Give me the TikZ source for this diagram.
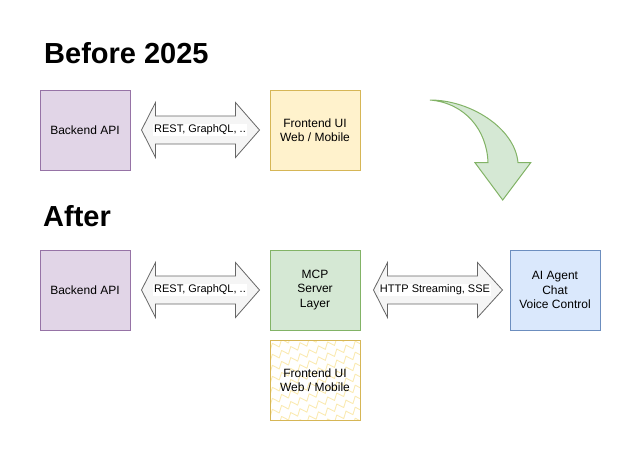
\documentclass[tikz,border=0pt]{standalone}
\usepackage{fontspec}
\setmainfont{Liberation Sans}
\usetikzlibrary{decorations.pathmorphing,calc}
\definecolor{purpF}{HTML}{E1D5E7}
\definecolor{purpD}{HTML}{9673A6}
\definecolor{yelF}{HTML}{FFF2CC}
\definecolor{yelD}{HTML}{D6B656}
\definecolor{grnF}{HTML}{D5E8D4}
\definecolor{grnD}{HTML}{82B366}
\definecolor{bluF}{HTML}{DAE8FC}
\definecolor{bluD}{HTML}{6C8EBF}
\definecolor{arrF}{HTML}{F5F5F5}
\definecolor{arrD}{HTML}{666666}
\definecolor{hatchC}{HTML}{FAEAB2}
\newcommand\mydbl[8]{%
  \draw[dblarrow]
    ([xshift=#3pt]#1.east)
    -- ([xshift=#3pt+#4pt,yshift=27.5pt]#1.east)
    -- ([xshift=#3pt+#4pt,yshift=14pt]#1.east)
    -- ([xshift=-#6pt-#5pt,yshift=14pt]#2.west)
    -- ([xshift=-#6pt-#5pt,yshift=27.5pt]#2.west)
    -- ([xshift=-#6pt]#2.west)
    -- ([xshift=-#6pt-#5pt,yshift=-27.5pt]#2.west)
    -- ([xshift=-#6pt-#5pt,yshift=-14pt]#2.west)
    -- ([xshift=#3pt+#4pt,yshift=-14pt]#1.east)
    -- ([xshift=#3pt+#4pt,yshift=-27.5pt]#1.east)
    -- cycle;
  \node[lbl] (#7) at ($(#1.east)!0.5!(#2.west)$) {#8};
}
\begin{document}
\begin{tikzpicture}[x=1pt,y=-1pt,
  box/.style={draw, line width=1pt, minimum width=90pt, minimum height=80pt,
    align=center, inner sep=0pt, font=\fontsize{12}{14.5}\selectfont},
  purplebox/.style={box, fill=purpF, draw=purpD},
  yellowbox/.style={box, fill=yelF, draw=yelD},
  greenbox/.style={box, fill=grnF, draw=grnD},
  bluebox/.style={box, fill=bluF, draw=bluD},
  dblarrow/.style={fill=arrF, draw=arrD, line width=0.8pt, line join=miter},
  lbl/.style={fill=white, inner sep=1pt, font=\fontsize{11}{13}\selectfont},
  title/.style={anchor=base west, inner sep=0pt, font=\bfseries\fontsize{29}{32}\selectfont},
  hatch/.style={draw=hatchC, line width=0.9pt, line join=round, decorate,
    decoration={zigzag, segment length=10pt, amplitude=3pt}},
  bigarrow/.style={fill=grnF, draw=grnD, line width=1pt, line join=miter}
]
\useasboundingbox (0,0) rectangle (640,450);

\node[title] (t1) at (44,63) {Before 2025};
\node[title] (t2) at (43,226.5) {After};

% top row
\node[purplebox] (be1) at (85,130) {Backend API};
\node[yellowbox] (fe1) at (315,130) {Frontend UI\\Web / Mobile};
\mydbl{be1}{fe1}{11}{14}{24}{10}{l1}{REST, GraphQL, ..}

% bottom row
\node[purplebox] (be2) at (85,290) {Backend API};
\node[greenbox] (mcp) at (315,290) {MCP\\Server\\Layer};
\node[bluebox] (ai) at (555,290) {AI Agent\\Chat\\Voice Control};
\mydbl{be2}{mcp}{11}{14}{24}{10}{l2}{REST, GraphQL, ..}
\mydbl{mcp}{ai}{13}{14}{25}{7}{l3}{HTTP Streaming, SSE}

% hatched frontend box
\begin{scope}
  \clip (270,340) rectangle (360,420);
  \foreach \i in {0,...,14}
    \draw[hatch] (262,340+\i*11) -- (368,340+\i*11-45);
\end{scope}
\node[box, draw=yelD] (fe2) at (315,380) {Frontend UI\\Web / Mobile};

% curved green arrow
\draw[bigarrow] (430,100)
  .. controls (470,100) and (515,128) .. (518,162.7)
  -- (530.7,162.7) -- (502.7,200) -- (475,162.7) -- (488,162.7)
  .. controls (487,130) and (465,103) .. (430,100) -- cycle;
\end{tikzpicture}
\end{document}
